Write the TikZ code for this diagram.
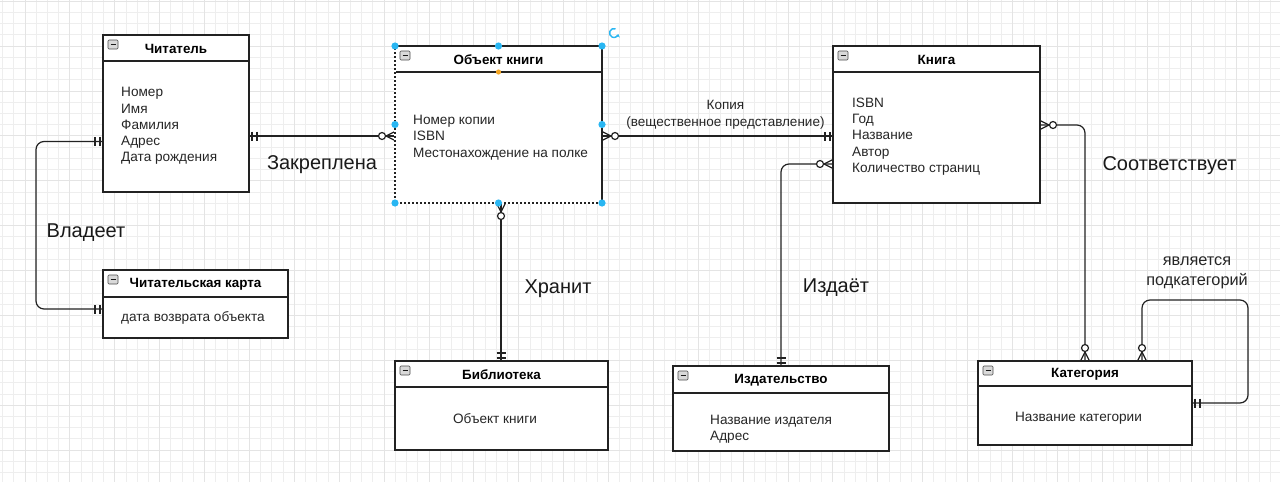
\documentclass[tikz,border=0pt]{standalone}
\usepackage{fontspec}
\setmainfont{Liberation Sans}
\usetikzlibrary{calc,positioning,arrows.meta}

\definecolor{linecol}{RGB}{34,34,34}
\definecolor{gridminor}{RGB}{238,238,238}
\definecolor{gridmajor}{RGB}{228,228,228}
\definecolor{handleblue}{RGB}{41,182,242}
\definecolor{handleorange}{RGB}{245,166,35}

\tikzset{
  entity/.style={draw=linecol, line width=1.2pt, fill=white, anchor=north west,
    inner sep=0pt, outer sep=0pt},
  headline/.style={draw=linecol, line width=1.2pt},
  title/.style={font=\bfseries\fontsize{13.4}{15}\selectfont, text=black},
  attr/.style={anchor=west, align=left, inner sep=0pt,
    font=\fontsize{13.6}{16.2}\selectfont, text=black!85},
  reltext/.style={font=\fontsize{20}{24}\selectfont, text=black!90},
  smalltext/.style={align=center, font=\fontsize{13.5}{17}\selectfont, text=black!85},
  rel/.style={draw=linecol, line width=1.2pt},
  one/.pic={\draw[rel] (3,-4.5) -- (3,4.5) (8,-4.5) -- (8,4.5);},
  zmany/.pic={\draw[rel] (0,-4.5) -- (9,0) -- (0,4.5);
    \draw[rel, fill=white] (13,0) circle (3.5);},
  minusicon/.pic={\draw[draw=gray!60!black, fill=gray!30, line width=0.6pt,
      rounded corners=1pt] (5,5) rectangle (15,14);
    \draw[gray!20!black, line width=1.2pt] (7.5,9.5) -- (12.5,9.5);},
  handle/.style={fill=handleblue, draw=none}
}

\begin{document}
\begin{tikzpicture}[x=1pt, y=-1pt]
  % Fond et grille
  \useasboundingbox (0,0) rectangle (1280,482);
  \fill[white] (0,0) rectangle (1280,482);
  \foreach \gx in {2.56,13.78,...,1280}
    \draw[gridminor, line width=0.8pt] (\gx,0) -- (\gx,482);
  \foreach \gy in {1.2,12.42,...,482}
    \draw[gridminor, line width=0.8pt] (0,\gy) -- (1280,\gy);
  \foreach \gx in {25,69.88,...,1280}
    \draw[gridmajor, line width=0.8pt] (\gx,0) -- (\gx,482);
  \foreach \gy in {1.2,46.08,...,482}
    \draw[gridmajor, line width=0.8pt] (0,\gy) -- (1280,\gy);

  % Читатель
  \node[entity, minimum width=146, minimum height=157] (reader) at (103,35) {};
  \draw[headline] ($(reader.north west)+(0,26)$) -- ($(reader.north east)+(0,26)$);
  \pic at (reader.north west) {minusicon};
  \node[title] (readerT) at ($(reader.north)+(0,14)$) {Читатель};
  \node[attr] (readerA) at ($(reader.north west)+(18,91)$)
    {Номер\\Имя\\Фамилия\\Адрес\\Дата рождения};

  % Читательская карта
  \node[entity, minimum width=185, minimum height=68] (card) at (103,270) {};
  \draw[headline] ($(card.north west)+(0,27)$) -- ($(card.north east)+(0,27)$);
  \pic at (card.north west) {minusicon};
  \node[title] (cardT) at ($(card.north)+(0,14.5)$) {Читательская карта};
  \node[attr] (cardA) at ($(card.north west)+(18,48)$) {дата возврата объекта};

  % Объект книги
  \node[entity, minimum width=207, minimum height=157] (obj) at (395,46) {};
  \draw[headline] ($(obj.north west)+(0,26)$) -- ($(obj.north east)+(0,26)$);
  \pic at (obj.north west) {minusicon};
  \node[title] (objT) at ($(obj.north)+(0,14)$) {Объект книги};
  \node[attr] (objA) at ($(obj.north west)+(18,91.5)$)
    {Номер копии\\ISBN\\Местонахождение на полке};

  % Книга
  \node[entity, minimum width=207, minimum height=157] (book) at (833,46) {};
  \draw[headline] ($(book.north west)+(0,26)$) -- ($(book.north east)+(0,26)$);
  \pic at (book.north west) {minusicon};
  \node[title] (bookT) at ($(book.north)+(0,14)$) {Книга};
  \node[attr] (bookA) at ($(book.north west)+(19,90.5)$)
    {ISBN\\Год\\Название\\Автор\\Количество страниц};

  % Библиотека
  \node[entity, minimum width=213, minimum height=89] (lib) at (395,361) {};
  \draw[headline] ($(lib.north west)+(0,26)$) -- ($(lib.north east)+(0,26)$);
  \pic at (lib.north west) {minusicon};
  \node[title] (libT) at ($(lib.north)+(0,14)$) {Библиотека};
  \node[attr, anchor=center] (libA) at (495,418.5) {Объект книги};

  % Издательство
  \node[entity, minimum width=216, minimum height=85] (pub) at (673,366) {};
  \draw[headline] ($(pub.north west)+(0,27)$) -- ($(pub.north east)+(0,27)$);
  \pic at (pub.north west) {minusicon};
  \node[title] (pubT) at ($(pub.north)+(0,14.5)$) {Издательство};
  \node[attr] (pubA) at ($(pub.north west)+(37,63.5)$) {Название издателя\\Адрес};

  % Категория
  \node[entity, minimum width=214, minimum height=84] (cat) at (978,361) {};
  \draw[headline] ($(cat.north west)+(0,25)$) -- ($(cat.north east)+(0,25)$);
  \pic at (cat.north west) {minusicon};
  \node[title] (catT) at ($(cat.north)+(0,13.5)$) {Категория};
  \node[attr, anchor=center] (catA) at (1078.5,418.5) {Название категории};

  % Points d'attache
  \coordinate (rdR) at ($(reader.north east)+(0,101)$);
  \coordinate (rdL) at ($(reader.north west)+(0,106.5)$);
  \coordinate (cdL) at ($(card.north west)+(0,39)$);
  \coordinate (obL) at ($(obj.north west)+(0,90)$);
  \coordinate (obR) at ($(obj.north east)+(0,90)$);
  \coordinate (obB) at ($(obj.south west)+(106,0)$);
  \coordinate (lbT) at ($(lib.north west)+(106,0)$);
  \coordinate (bkL) at ($(book.north west)+(0,90)$);
  \coordinate (bkL2) at ($(book.north west)+(0,118)$);
  \coordinate (bkR) at ($(book.north east)+(0,79)$);
  \coordinate (ctT) at ($(cat.north west)+(164,0)$);
  \coordinate (ctR) at ($(cat.north east)+(0,42)$);

  % Связи
  \draw[rel] (rdR) -- (obL);
  \draw[rel, rounded corners=8] (rdL) -- ++(-67,0) |- (cdL);
  \draw[rel] (obR) -- (bkL);
  \draw[rel] (obB) -- (lbT);
  \draw[rel, rounded corners=8] (bkL2) -| (pub.north);
  \draw[rel, rounded corners=8] (bkR) -| (cat.north);
  \draw[rel, rounded corners=8] (ctT) -- ++(0,-61) -- ++(106,0) |- (ctR);

  % Концы связей
  \pic at (rdR) {one};
  \pic[rotate=180] at (obL) {zmany};
  \pic[rotate=180] at (rdL) {one};
  \pic[rotate=180] at (cdL) {one};
  \pic at (obR) {zmany};
  \pic[rotate=180] at (bkL) {one};
  \pic[rotate=-90] at (obB) {zmany};
  \pic[rotate=90] at (lbT) {one};
  \pic[rotate=180] at (bkL2) {zmany};
  \pic[rotate=90] at (pub.north) {one};
  \pic at (bkR) {zmany};
  \pic[rotate=90] at (cat.north) {zmany};
  \pic[rotate=90] at (ctT) {zmany};
  \pic at (ctR) {one};

  % Подписи
  \node[reltext] (lblFix) at (322,165) {Закреплена};
  \node[reltext] (lblOwn) at (86,233) {Владеет};
  \node[reltext] (lblKeep) at (558,289) {Хранит};
  \node[reltext] (lblPub) at (836,288) {Издаёт};
  \node[reltext] (lblMatch) at (1169.5,165.5) {Соответствует};
  \node[smalltext] (lblCopy) at (725.5,114.5) {Копия\\(вещественное представление)};
  \node[smalltext, font=\fontsize{16.3}{20}\selectfont] (lblSub) at (1197,272.5)
    {является\\подкатегорий};

  % Выделение (Объект книги)
  \draw[white, line width=1.3pt, dash pattern=on 2pt off 2pt]
    (obj.north west) -- (obj.south west) -- (obj.south east);
  \foreach \hx/\hy in {395/46, 498.5/46, 602/46, 395/124.5, 602/124.5,
                       395/203, 498.5/203, 602/203}
    \fill[handle] (\hx,\hy) circle (3.6);
  \fill[handleorange] (498.5,72) circle (2.6);
  \draw[handleblue, line width=1.4pt, -{Stealth[length=3pt, width=4.5pt]}]
    (614,33) ++(-70:4.5) arc (-70:-345:4.5);
\end{tikzpicture}
\end{document}
